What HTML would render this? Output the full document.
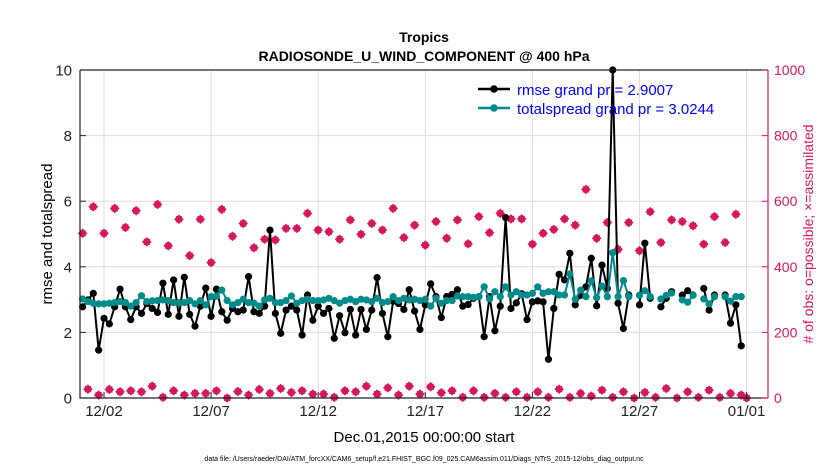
<!DOCTYPE html>
<html><head><meta charset="utf-8">
<style>
html,body{margin:0;padding:0;background:#fff;}
svg{display:block;font-family:"Liberation Sans",Arial,sans-serif;}
</style></head>
<body>
<svg id="chart" width="830" height="470" viewBox="0 0 830 470" xmlns="http://www.w3.org/2000/svg">
<text x="424" y="42" text-anchor="middle" font-size="14" font-weight="bold">Tropics</text>
<text x="424" y="61" text-anchor="middle" font-size="14" font-weight="bold">RADIOSONDE_U_WIND_COMPONENT @ 400 hPa</text>
<g id="grid"></g>
<g id="marks"></g>
<g id="axes"></g>
<text transform="translate(52,234) rotate(-90)" text-anchor="middle" font-size="15">rmse and totalspread</text>
<text transform="translate(813,234) rotate(-90)" text-anchor="middle" font-size="14" fill="#d6175d">#  of obs: o=possible; ×=assimilated</text>
<text x="424" y="442" text-anchor="middle" font-size="15">Dec.01,2015 00:00:00 start</text>
<text x="424" y="461" text-anchor="middle" font-size="7">data file: /Users/raeder/DAI/ATM_forcXX/CAM6_setup/f.e21.FHIST_BGC.f09_025.CAM6assim.011/Diags_NTrS_2015-12/obs_diag_output.nc</text>
<g id="legend">
  <line x1="478" y1="89" x2="510" y2="89" stroke="#000" stroke-width="2.5"/>
  <circle cx="494" cy="89" r="3.8" fill="#000"/>
  <text x="517" y="95" font-size="15" fill="#0000ff">rmse grand pr = 2.9007</text>
  <line x1="478" y1="108" x2="510" y2="108" stroke="#008b8b" stroke-width="2.5"/>
  <circle cx="494" cy="108" r="3.8" fill="#008b8b"/>
  <text x="517" y="114" font-size="15" fill="#0000ff">totalspread grand pr = 3.0244</text>
</g>
</svg>
<script>
const xTickDays = [1,6,11,16,21,26,31];
const xTickLabels = ["12/02","12/07","12/12","12/17","12/22","12/27","01/01"];
const yTicks = [0,2,4,6,8,10];
const y2Ticks = [0,200,400,600,800,1000];
const rmse = [2.78,2.99,3.19,1.46,2.43,2.26,2.78,3.32,2.78,2.39,2.78,2.58,2.88,2.73,2.61,3.5,2.55,3.6,2.49,3.68,2.55,2.19,2.8,3.35,2.49,3.32,2.63,2.37,2.73,2.63,2.68,3.7,2.63,
2.58,2.8,5.12,2.58,1.97,2.68,2.8,2.68,1.92,3.14,2.37,2.8,2.58,2.73,1.82,2.51,1.99,2.7,1.92,2.7,2.09,2.68,3.67,2.58,1.87,2.95,2.88,2.7,3.3,2.65,2.09,
2.84,3.48,3.09,2.45,3.09,3.16,3.3,2.8,2.85,3.04,3.09,1.87,3.09,2.05,2.8,5.5,2.73,2.9,3.18,2.39,2.93,2.96,2.93,1.18,2.73,3.77,3.6,4.41,2.84,3.13,3.39,4.26,2.81,
4.05,3.34,10.0,2.89,2.12,3.14,null,2.84,4.72,3.04,null,2.78,3.04,3.24,null,3.14,3.27,3.14,null,3.34,2.68,3.14,null,3.14,2.28,2.84,1.59];
const spread = [3.02,2.94,2.89,2.87,2.87,2.89,2.91,2.94,2.91,2.80,2.91,3.12,2.94,2.96,2.97,2.99,2.97,2.91,2.91,2.91,2.97,2.87,2.97,2.84,3.09,3.11,3.29,2.97,2.84,2.91,3.01,2.91,2.89,
2.80,2.99,3.04,2.91,2.91,2.97,3.11,2.89,2.97,3.01,2.97,2.97,2.99,3.04,2.97,2.89,2.97,3.01,2.94,3.01,2.99,2.94,3.04,2.91,2.94,3.09,2.97,3.04,2.99,3.01,2.97,
3.01,2.80,3.04,2.89,2.97,2.97,3.11,3.09,3.09,3.07,3.09,3.39,3.02,3.24,3.09,3.39,3.14,3.24,3.14,3.14,3.19,3.39,3.19,3.24,3.24,3.14,3.14,3.78,3.01,3.29,3.09,3.57,3.06,
3.41,3.09,4.43,3.09,3.58,3.09,null,3.13,3.27,3.09,null,3.02,3.13,3.2,null,2.99,2.92,3.13,null,3.02,2.87,3.09,null,3.09,2.95,3.09,3.09];
const obsHigh = [502,583,502,578,520,571,476,590,464,545,434,545,413,575,493,532,458,
484,482,517,517,563,512,507,484,543,499,532,512,578,489,527,466,
538,487,543,470,553,504,563,546,546,469,502,514,546,527,636,487,
535,453,535,449,568,474,543,538,525,469,553,474,560,0];
const obsLow = [27,9,26,19,22,19,36,2,22,9,14,14,22,0,20,9,
26,14,29,17,22,12,12,2,22,19,36,12,31,9,36,12,
34,16,22,2,22,2,14,2,19,2,19,2,27,2,14,6,
24,2,19,0,17,2,29,0,19,2,24,2,14,9];

const NS="http://www.w3.org/2000/svg";
const L=80,R=768,T=70,B=398;
const X0=-0.12,X1=32.0;
function xs(d){return L+(d-X0)/(X1-X0)*(R-L);}
function ys(v){return B-v/10*(B-T);}
function y2s(v){return B-v/1000*(B-T);}
function mk(tag,attrs,parent){const e=document.createElementNS(NS,tag);for(const k in attrs)e.setAttribute(k,attrs[k]);parent.appendChild(e);return e;}
const grid=document.getElementById('grid'),marks=document.getElementById('marks'),axes=document.getElementById('axes');

y2Ticks.forEach(v=>{if(v>0&&v<1000){const g=mk('line',{x1:L,x2:R,y1:y2s(v),y2:y2s(v),stroke:'#efd3dc','stroke-width':1},grid);

}});
xTickDays.forEach(d=>{const g=mk('line',{x1:xs(d),x2:xs(d),y1:T,y2:B,stroke:'#dcdcdc','stroke-width':1},grid);

});

function star(cx,cy,name){
  const g=mk('g',{},marks);
  
  
  mk('path',{d:`M${cx-4.8},${cy}L${cx},${cy-4.8}L${cx+4.8},${cy}L${cx},${cy+4.8}Z`,fill:'#d6175d'},g);
  mk('rect',{x:cx-3.1,y:cy-3.1,width:6.2,height:6.2,fill:'#d6175d'},g);
}
for(let k=0;k<obsHigh.length;k++){const i=2*k;star(xs(i/4),y2s(obsHigh[k]),'obs-count-point');}
for(let k=0;k<obsLow.length;k++){const i=2*k+1;star(xs(i/4),y2s(obsLow[k]),'obs-count-point');}

function series(arr,color,name){
  let d='',pen=false;
  arr.forEach((v,i)=>{if(v===null){pen=false;return;}d+=(pen?'L':'M')+xs(i/4).toFixed(2)+','+ys(v).toFixed(2);pen=true;});
  const p=mk('path',{d:d,fill:'none',stroke:color,'stroke-width':2,'stroke-linejoin':'round'},marks);
  
  
  arr.forEach((v,i)=>{if(v===null)return;const c=mk('circle',{cx:xs(i/4),cy:ys(v),r:3.6,fill:color},marks);
    
    });
}
series(rmse,'#000000','rmse');
series(spread,'#008b8b','totalspread');

const ax=mk('path',{d:`M${L},${T}L${L},${B}L${R},${B}M${L},${T}L${R},${T}`,fill:'none',stroke:'#222','stroke-width':1.2},axes);


const ra=mk('line',{x1:R,x2:R,y1:T,y2:B,stroke:'#d6175d','stroke-width':1.2},axes);


yTicks.forEach(v=>{
  mk('line',{x1:L,x2:L+6,y1:ys(v),y2:ys(v),stroke:'#222'},axes);
  const t=mk('text',{x:L-8,y:ys(v)+5.5,'text-anchor':'end','font-size':15,fill:'#222'},axes);
  t.textContent=v;
  
  
});
y2Ticks.forEach(v=>{
  mk('line',{x1:R-6,x2:R,y1:y2s(v),y2:y2s(v),stroke:'#d6175d'},axes);
  const t=mk('text',{x:R+6,y:y2s(v)+5,'font-size':14,fill:'#d6175d'},axes);
  t.textContent=v;
  
  
});
xTickDays.forEach((d,j)=>{
  mk('line',{x1:xs(d),x2:xs(d),y1:B,y2:B-6,stroke:'#222'},axes);
  const t=mk('text',{x:xs(d),y:B+18,'text-anchor':'middle','font-size':15,fill:'#222'},axes);
  t.textContent=xTickLabels[j];
  
  
});
</script>
</body></html>
